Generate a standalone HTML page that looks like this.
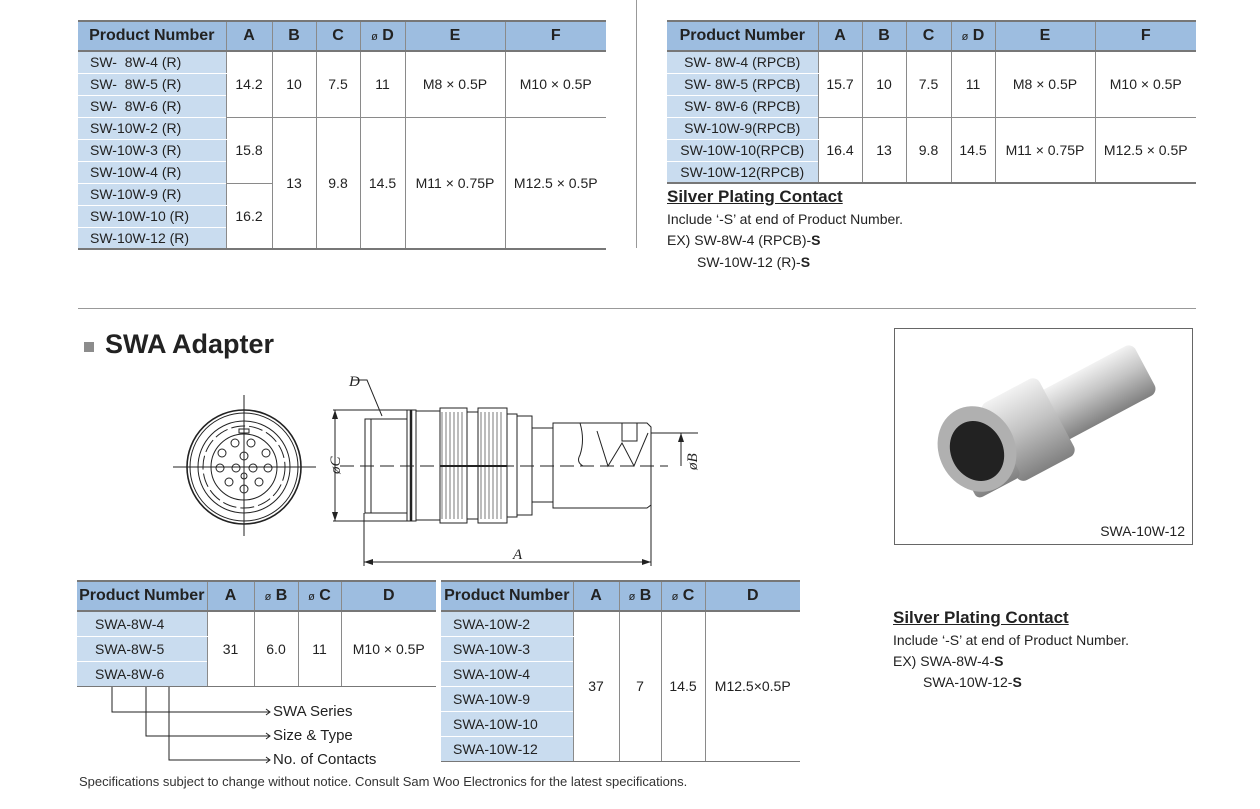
<!DOCTYPE html>
<html><head><meta charset="utf-8">
<style>
body{margin:0;width:1260px;height:809px;background:#fff;position:relative;overflow:hidden;font-family:"Liberation Sans",Arial,sans-serif;color:#222}
table{position:absolute;border-collapse:collapse;table-layout:fixed;font-size:14px}
td,th{border:1px solid #8a8a8a;border-top:none;border-bottom:none;text-align:center;padding:0;white-space:nowrap;overflow:hidden}
th{background:#9dbde0;font-weight:bold;font-size:16px;border-top:2px solid #777;border-bottom:2px solid #777;color:#222}
th:first-child,td.p{border-left:none}
th:last-child,td.l{border-right:none}
td.p{background:#c9dcef;border-bottom:1px solid #fff;text-align:left;padding-left:12px}
td.c{border-bottom:1px solid #8a8a8a}
tr.last td{border-bottom:2px solid #777}
.t{position:absolute;white-space:nowrap}
.phi{font-size:11px;font-weight:normal}
</style></head><body>

<table style="left:78px;top:20px;width:528px">
<colgroup><col style="width:148px"><col style="width:46px"><col style="width:44px"><col style="width:44px"><col style="width:45px"><col style="width:100px"><col style="width:101px"></colgroup>
<tr style="height:30px"><th>Product Number</th><th>A</th><th>B</th><th>C</th><th><span class="phi">ø</span> D</th><th>E</th><th>F</th></tr>
<tr style="height:22px"><td class="p">SW-&nbsp; 8W-4 (R)</td><td rowspan="3" class="c">14.2</td><td rowspan="3" class="c">10</td><td rowspan="3" class="c">7.5</td><td rowspan="3" class="c">11</td><td rowspan="3" class="c">M8 × 0.5P</td><td rowspan="3" class="c l">M10 × 0.5P</td></tr>
<tr style="height:22px"><td class="p">SW-&nbsp; 8W-5 (R)</td></tr>
<tr style="height:22px"><td class="p">SW-&nbsp; 8W-6 (R)</td></tr>
<tr style="height:22px"><td class="p">SW-10W-2 (R)</td><td rowspan="3" class="c">15.8</td><td rowspan="6" style="border-bottom:2px solid #777">13</td><td rowspan="6" style="border-bottom:2px solid #777">9.8</td><td rowspan="6" style="border-bottom:2px solid #777">14.5</td><td rowspan="6" style="border-bottom:2px solid #777">M11 × 0.75P</td><td rowspan="6" class="l" style="border-bottom:2px solid #777">M12.5 × 0.5P</td></tr>
<tr style="height:22px"><td class="p">SW-10W-3 (R)</td></tr>
<tr style="height:22px"><td class="p">SW-10W-4 (R)</td></tr>
<tr style="height:22px"><td class="p">SW-10W-9 (R)</td><td rowspan="3" style="border-bottom:2px solid #777">16.2</td></tr>
<tr style="height:22px"><td class="p">SW-10W-10 (R)</td></tr>
<tr style="height:22px" class="last"><td class="p">SW-10W-12 (R)</td></tr>
</table>

<div style="position:absolute;left:636px;top:0;width:1px;height:248px;background:#999"></div>

<table style="left:667px;top:20px;width:529px">
<colgroup><col style="width:151px"><col style="width:44px"><col style="width:44px"><col style="width:45px"><col style="width:44px"><col style="width:100px"><col style="width:101px"></colgroup>
<tr style="height:30px"><th>Product Number</th><th>A</th><th>B</th><th>C</th><th><span class="phi">ø</span> D</th><th>E</th><th>F</th></tr>
<tr style="height:22px"><td class="p" style="text-align:center;padding:0">SW- 8W-4 (RPCB)</td><td rowspan="3" class="c">15.7</td><td rowspan="3" class="c">10</td><td rowspan="3" class="c">7.5</td><td rowspan="3" class="c">11</td><td rowspan="3" class="c">M8 × 0.5P</td><td rowspan="3" class="c l">M10 × 0.5P</td></tr>
<tr style="height:22px"><td class="p" style="text-align:center;padding:0">SW- 8W-5 (RPCB)</td></tr>
<tr style="height:22px"><td class="p" style="text-align:center;padding:0">SW- 8W-6 (RPCB)</td></tr>
<tr style="height:22px"><td class="p" style="text-align:center;padding:0">SW-10W-9(RPCB)</td><td rowspan="3" style="border-bottom:2px solid #777">16.4</td><td rowspan="3" style="border-bottom:2px solid #777">13</td><td rowspan="3" style="border-bottom:2px solid #777">9.8</td><td rowspan="3" style="border-bottom:2px solid #777">14.5</td><td rowspan="3" style="border-bottom:2px solid #777">M11 × 0.75P</td><td rowspan="3" class="l" style="border-bottom:2px solid #777">M12.5 × 0.5P</td></tr>
<tr style="height:22px"><td class="p" style="text-align:center;padding:0">SW-10W-10(RPCB)</td></tr>
<tr style="height:22px" class="last"><td class="p" style="text-align:center;padding:0">SW-10W-12(RPCB)</td></tr>
</table>

<div class="t" style="left:667px;top:187px;font-size:17px;font-weight:bold;text-decoration:underline">Silver Plating Contact</div>
<div class="t" style="left:667px;top:211px;font-size:14px">Include ‘-S’ at end of Product Number.</div>
<div class="t" style="left:667px;top:232px;font-size:14px">EX) SW-8W-4 (RPCB)-<b>S</b></div>
<div class="t" style="left:697px;top:254px;font-size:14px">SW-10W-12 (R)-<b>S</b></div>

<div style="position:absolute;left:78px;top:308px;width:1118px;height:1px;background:#999"></div>

<div style="position:absolute;left:84px;top:342px;width:10px;height:10px;background:#8c8c8c"></div>
<div class="t" style="left:105px;top:329px;font-size:27px;font-weight:bold;color:#222">SWA Adapter</div>

<svg style="position:absolute;left:0;top:0" width="1260" height="809">
<g fill="none" stroke="#222" stroke-width="1">
 <line x1="173" y1="467" x2="316" y2="467"/><line x1="244" y1="395" x2="244" y2="536"/>
 <circle cx="244" cy="467" r="57" stroke-width="1.6"/>
 <circle cx="244" cy="467" r="54"/>
 <circle cx="244" cy="467" r="46"/>
 <circle cx="244" cy="467" r="41" stroke-dasharray="14 4"/>
 <circle cx="244" cy="467" r="33"/>
 <rect x="239" y="429" width="10" height="4"/>
 <g>
  <circle cx="235" cy="443" r="4"/><circle cx="251" cy="443" r="4"/>
  <circle cx="222" cy="453" r="4"/><circle cx="244" cy="456" r="4"/><circle cx="266" cy="453" r="4"/>
  <circle cx="220" cy="468" r="4"/><circle cx="236" cy="468" r="4"/><circle cx="253" cy="468" r="4"/><circle cx="268" cy="468" r="4"/>
  <circle cx="229" cy="482" r="4"/><circle cx="259" cy="482" r="4"/><circle cx="244" cy="489" r="4"/><circle cx="244" cy="476" r="3"/>
 </g>
 <line x1="340" y1="466" x2="668" y2="466" stroke-dasharray="14 6"/>
 <polyline points="352,380 367,380 382,416"/>
 <rect x="365" y="419" width="42" height="94"/>
 <line x1="371" y1="419" x2="371" y2="513"/>
 <rect x="407" y="410" width="9" height="111"/>
 <line x1="411" y1="410" x2="411" y2="521" stroke-width="2.5"/>
 <rect x="416" y="411" width="24" height="109"/>
 <rect x="440" y="408" width="27" height="115"/>
 <rect x="467" y="412" width="11" height="107"/>
 <rect x="478" y="408" width="29" height="115"/>
 <rect x="507" y="414" width="10" height="103"/>
 <rect x="517" y="416" width="15" height="99"/>
 <rect x="532" y="428" width="21" height="74"/>
 <path d="M553,423 L647,423 L651,427 L651,505 L647,508 L553,508 Z"/>
 <path d="M580,423 Q585,440 580,455 Q576,462 583,466" />
 <path d="M597,431 L608,466 L622,443 L634,466 L648,433"/>
 <rect x="622" y="423" width="15" height="18"/>
 <line x1="333" y1="410" x2="407" y2="410"/><line x1="333" y1="521" x2="407" y2="521"/>
 <line x1="335" y1="410" x2="335" y2="521"/>
 <line x1="651" y1="433" x2="698" y2="433"/>
 <line x1="681" y1="433" x2="681" y2="466"/>
 <line x1="364" y1="513" x2="364" y2="566"/><line x1="651" y1="505" x2="651" y2="566"/>
 <line x1="364" y1="562" x2="651" y2="562"/>
</g>
<g stroke="#222" stroke-width="0.6">
 <path d="M442,412 v107 M446,412 v107 M450,412 v107 M454,412 v107 M458,412 v107 M462,412 v107 M481,412 v107 M485,412 v107 M489,412 v107 M493,412 v107 M497,412 v107 M501,412 v107"/>
</g>
<line x1="440" y1="466" x2="507" y2="466" stroke="#222" stroke-width="2"/>
<g fill="#222">
 <path d="M335,410 l-3,9 h6z"/><path d="M335,521 l-3,-9 h6z"/>
 <path d="M681,433 l-3,9 h6z"/>
 <path d="M364,562 l9,-3 v6z"/><path d="M651,562 l-9,-3 v6z"/>
</g>
<g font-family="Liberation Serif,serif" font-style="italic" font-size="15" fill="#222">
 <text x="349" y="386">D</text>
 <text x="513" y="559">A</text>
 <text transform="translate(340,474) rotate(-90)">øC</text>
 <text transform="translate(697,470) rotate(-90)">øB</text>
</g>
<g fill="none" stroke="#222" stroke-width="1">
 <polyline points="112,686 112,712 270,712"/>
 <polyline points="146,686 146,736 270,736"/>
 <polyline points="169,686 169,760 270,760"/>
 <path d="M266,709 l4,3 l-4,3 M266,733 l4,3 l-4,3 M266,757 l4,3 l-4,3"/>
</g>
</svg>

<div style="position:absolute;left:894px;top:328px;width:299px;height:217px;border:1px solid #666;box-sizing:border-box;background:#fff">
 <svg width="297" height="215" style="position:absolute;left:0;top:0">
  <defs>
   <linearGradient id="m" x1="0" y1="0" x2="0" y2="1"><stop offset="0" stop-color="#f2f2f2"/><stop offset=".45" stop-color="#c4c4c4"/><stop offset="1" stop-color="#808080"/></linearGradient>
  </defs>
  <g transform="rotate(-28 150 95)">
   <rect x="150" y="64" width="115" height="56" rx="8" fill="url(#m)"/>
   <rect x="100" y="48" width="65" height="88" rx="8" fill="url(#m)"/>
   <rect x="55" y="54" width="50" height="76" rx="6" fill="url(#m)"/>
  </g>
  <ellipse cx="82" cy="120" rx="38" ry="44" fill="#b0b0b0" transform="rotate(-28 82 120)"/>
  <ellipse cx="82" cy="122" rx="26" ry="31" fill="#222" transform="rotate(-28 82 122)"/>
 </svg>
 <div class="t" style="right:7px;bottom:5px;font-size:14px">SWA-10W-12</div>
</div>

<table style="left:77px;top:580px;width:359px">
<colgroup><col style="width:130px"><col style="width:47px"><col style="width:44px"><col style="width:43px"><col style="width:95px"></colgroup>
<tr style="height:30px"><th>Product Number</th><th>A</th><th><span class="phi">ø</span> B</th><th><span class="phi">ø</span> C</th><th>D</th></tr>
<tr style="height:25px"><td class="p" style="padding-left:18px">SWA-8W-4</td><td rowspan="3" style="border-bottom:1px solid #777">31</td><td rowspan="3" style="border-bottom:1px solid #777">6.0</td><td rowspan="3" style="border-bottom:1px solid #777">11</td><td rowspan="3" class="l" style="border-bottom:1px solid #777">M10 × 0.5P</td></tr>
<tr style="height:25px"><td class="p" style="padding-left:18px">SWA-8W-5</td></tr>
<tr style="height:25px"><td class="p" style="padding-left:18px;border-bottom:1px solid #777">SWA-8W-6</td></tr>
</table>

<table style="left:441px;top:580px;width:359px">
<colgroup><col style="width:132px"><col style="width:46px"><col style="width:42px"><col style="width:44px"><col style="width:95px"></colgroup>
<tr style="height:30px"><th>Product Number</th><th>A</th><th><span class="phi">ø</span> B</th><th><span class="phi">ø</span> C</th><th>D</th></tr>
<tr style="height:25px"><td class="p">SWA-10W-2</td><td rowspan="6" style="border-bottom:1px solid #777">37</td><td rowspan="6" style="border-bottom:1px solid #777">7</td><td rowspan="6" style="border-bottom:1px solid #777">14.5</td><td rowspan="6" class="l" style="border-bottom:1px solid #777">M12.5×0.5P</td></tr>
<tr style="height:25px"><td class="p">SWA-10W-3</td></tr>
<tr style="height:25px"><td class="p">SWA-10W-4</td></tr>
<tr style="height:25px"><td class="p">SWA-10W-9</td></tr>
<tr style="height:25px"><td class="p">SWA-10W-10</td></tr>
<tr style="height:25px"><td class="p" style="border-bottom:1px solid #777">SWA-10W-12</td></tr>
</table>

<div class="t" style="left:273px;top:703px;font-size:15px">SWA Series</div>
<div class="t" style="left:273px;top:727px;font-size:15px">Size &amp; Type</div>
<div class="t" style="left:273px;top:751px;font-size:15px">No. of Contacts</div>
<div class="t" style="left:79px;top:774px;font-size:13px;color:#333">Specifications subject to change without notice. Consult Sam Woo Electronics for the latest specifications.</div>

<div class="t" style="left:893px;top:608px;font-size:17px;font-weight:bold;text-decoration:underline">Silver Plating Contact</div>
<div class="t" style="left:893px;top:632px;font-size:14px">Include ‘-S’ at end of Product Number.</div>
<div class="t" style="left:893px;top:653px;font-size:14px">EX) SWA-8W-4-<b>S</b></div>
<div class="t" style="left:923px;top:674px;font-size:14px">SWA-10W-12-<b>S</b></div>
</body></html>
